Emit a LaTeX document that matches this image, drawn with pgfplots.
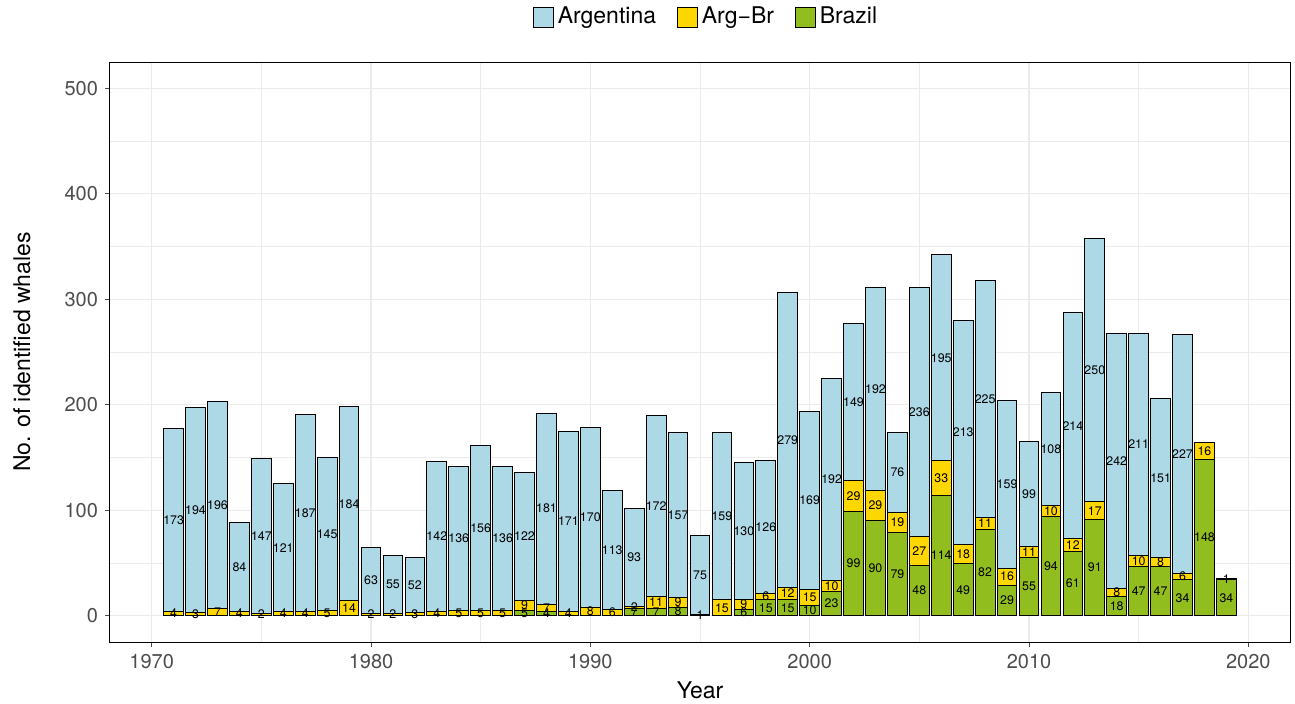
\documentclass[border=0pt]{standalone}
\usepackage{fontspec}
\setmainfont{TeX Gyre Heros}
\usepackage{pgfplots}
\usepackage{pgfplotstable}
\pgfplotsset{compat=1.18}
\definecolor{argc}{HTML}{ADD8E6}
\definecolor{abc}{HTML}{FFD700}
\definecolor{brc}{RGB}{145,190,30}
\definecolor{gridc}{HTML}{EBEBEB}
\definecolor{tickc}{HTML}{4D4D4D}

\pgfplotstableread{
year B AB A
1971 0 4 173
1972 0 3 194
1973 0 7 196
1974 0 4 84
1975 0 2 147
1976 0 4 121
1977 0 4 187
1978 0 5 145
1979 0 14 184
1980 0 2 63
1981 0 2 55
1982 0 3 52
1983 0 4 142
1984 0 5 136
1985 0 5 156
1986 0 5 136
1987 5 9 122
1988 4 7 181
1989 0 4 171
1990 0 8 170
1991 0 6 113
1992 7 2 93
1993 7 11 172
1994 8 9 157
1995 1 0 75
1996 0 15 159
1997 6 9 130
1998 15 6 126
1999 15 12 279
2000 10 15 169
2001 23 10 192
2002 99 29 149
2003 90 29 192
2004 79 19 76
2005 48 27 236
2006 114 33 195
2007 49 18 213
2008 82 11 225
2009 29 16 159
2010 55 11 99
2011 94 10 108
2012 61 12 214
2013 91 17 250
2014 18 8 242
2015 47 10 211
2016 47 8 151
2017 34 6 227
2018 148 16 0
2019 34 1 0
}\whales

\pgfplotsset{
  common/.style={
    scale only axis, width=590pt, height=290pt,
    xmin=1968.1, xmax=2021.9, ymin=-25, ymax=525,
    /pgf/number format/assume math mode=true,
    /pgf/number format/1000 sep={},
  },
  lab/.style={
    draw=none, mark=none, forget plot,
    nodes near coords={\ifdim\rawy pt>0.5pt\pgfmathprintnumber{\rawy}\fi},
    every node near coord/.append style={font=\fontsize{6.2}{6.2}\selectfont, text=black,
      anchor=center, inner sep=0pt},
  },
  mybar/.style={draw=black, line width=0.5pt,
    legend image code/.code={\draw[##1, draw=black, line width=0.4pt] (0pt,-5pt) rectangle (10pt,5pt);}},
}

\begin{document}
\begin{tikzpicture}
\path[use as bounding box] (-55pt,-30.5pt) rectangle (592.5pt,321pt);
\begin{axis}[
  common,
  ybar stacked, bar width=0.9,
  xtick={1970,1980,...,2020}, ytick={0,100,...,500},
  minor xtick={1975,1985,...,2015}, minor ytick={50,150,...,450},
  grid=both,
  major grid style={gridc, line width=0.6pt},
  minor grid style={gridc, line width=0.35pt},
  axis line style={black, line width=0.5pt},
  tick align=outside, major tick length=2.5pt, minor tick length=0pt,
  tick style={color=tickc, line width=0.5pt},
  xtick pos=bottom, ytick pos=left,
  ticklabel style={font=\fontsize{10}{12}\selectfont, text=tickc},
  xlabel={Year}, ylabel={No. of identified whales},
  label style={font=\fontsize{11.5}{13}\selectfont},
  xlabel style={at={(axis description cs:0.5,-0.0828)}, anchor=center},
  ylabel style={at={(axis description cs:-0.0746,0.5)}, anchor=center},
  legend style={at={(axis description cs:0.506,1.0776)}, anchor=center, draw=none, fill=none,
    legend columns=-1, font=\fontsize{11.5}{13}\selectfont,
    /tikz/every even column/.append style={column sep=8.5pt}},
  reverse legend,
]
\addplot[mybar, fill=brc] table[x=year, y=B]{\whales};
\addlegendentry{Brazil}
\addplot[mybar, fill=abc] table[x=year, y=AB]{\whales};
\addlegendentry{Arg−Br}
\addplot[mybar, fill=argc] table[x=year, y=A]{\whales};
\addlegendentry{Argentina}
\end{axis}
\begin{axis}[common, hide axis, clip=false]
\addplot[lab, visualization depends on={\thisrow{B}\as\rawy}]
  table[x=year, y expr={\thisrow{B}/2}]{\whales};
\addplot[lab, visualization depends on={\thisrow{AB}\as\rawy}]
  table[x=year, y expr={\thisrow{B}+\thisrow{AB}/2}]{\whales};
\addplot[lab, visualization depends on={\thisrow{A}\as\rawy}]
  table[x=year, y expr={\thisrow{B}+\thisrow{AB}+\thisrow{A}/2}]{\whales};
\end{axis}
\end{tikzpicture}
\end{document}
